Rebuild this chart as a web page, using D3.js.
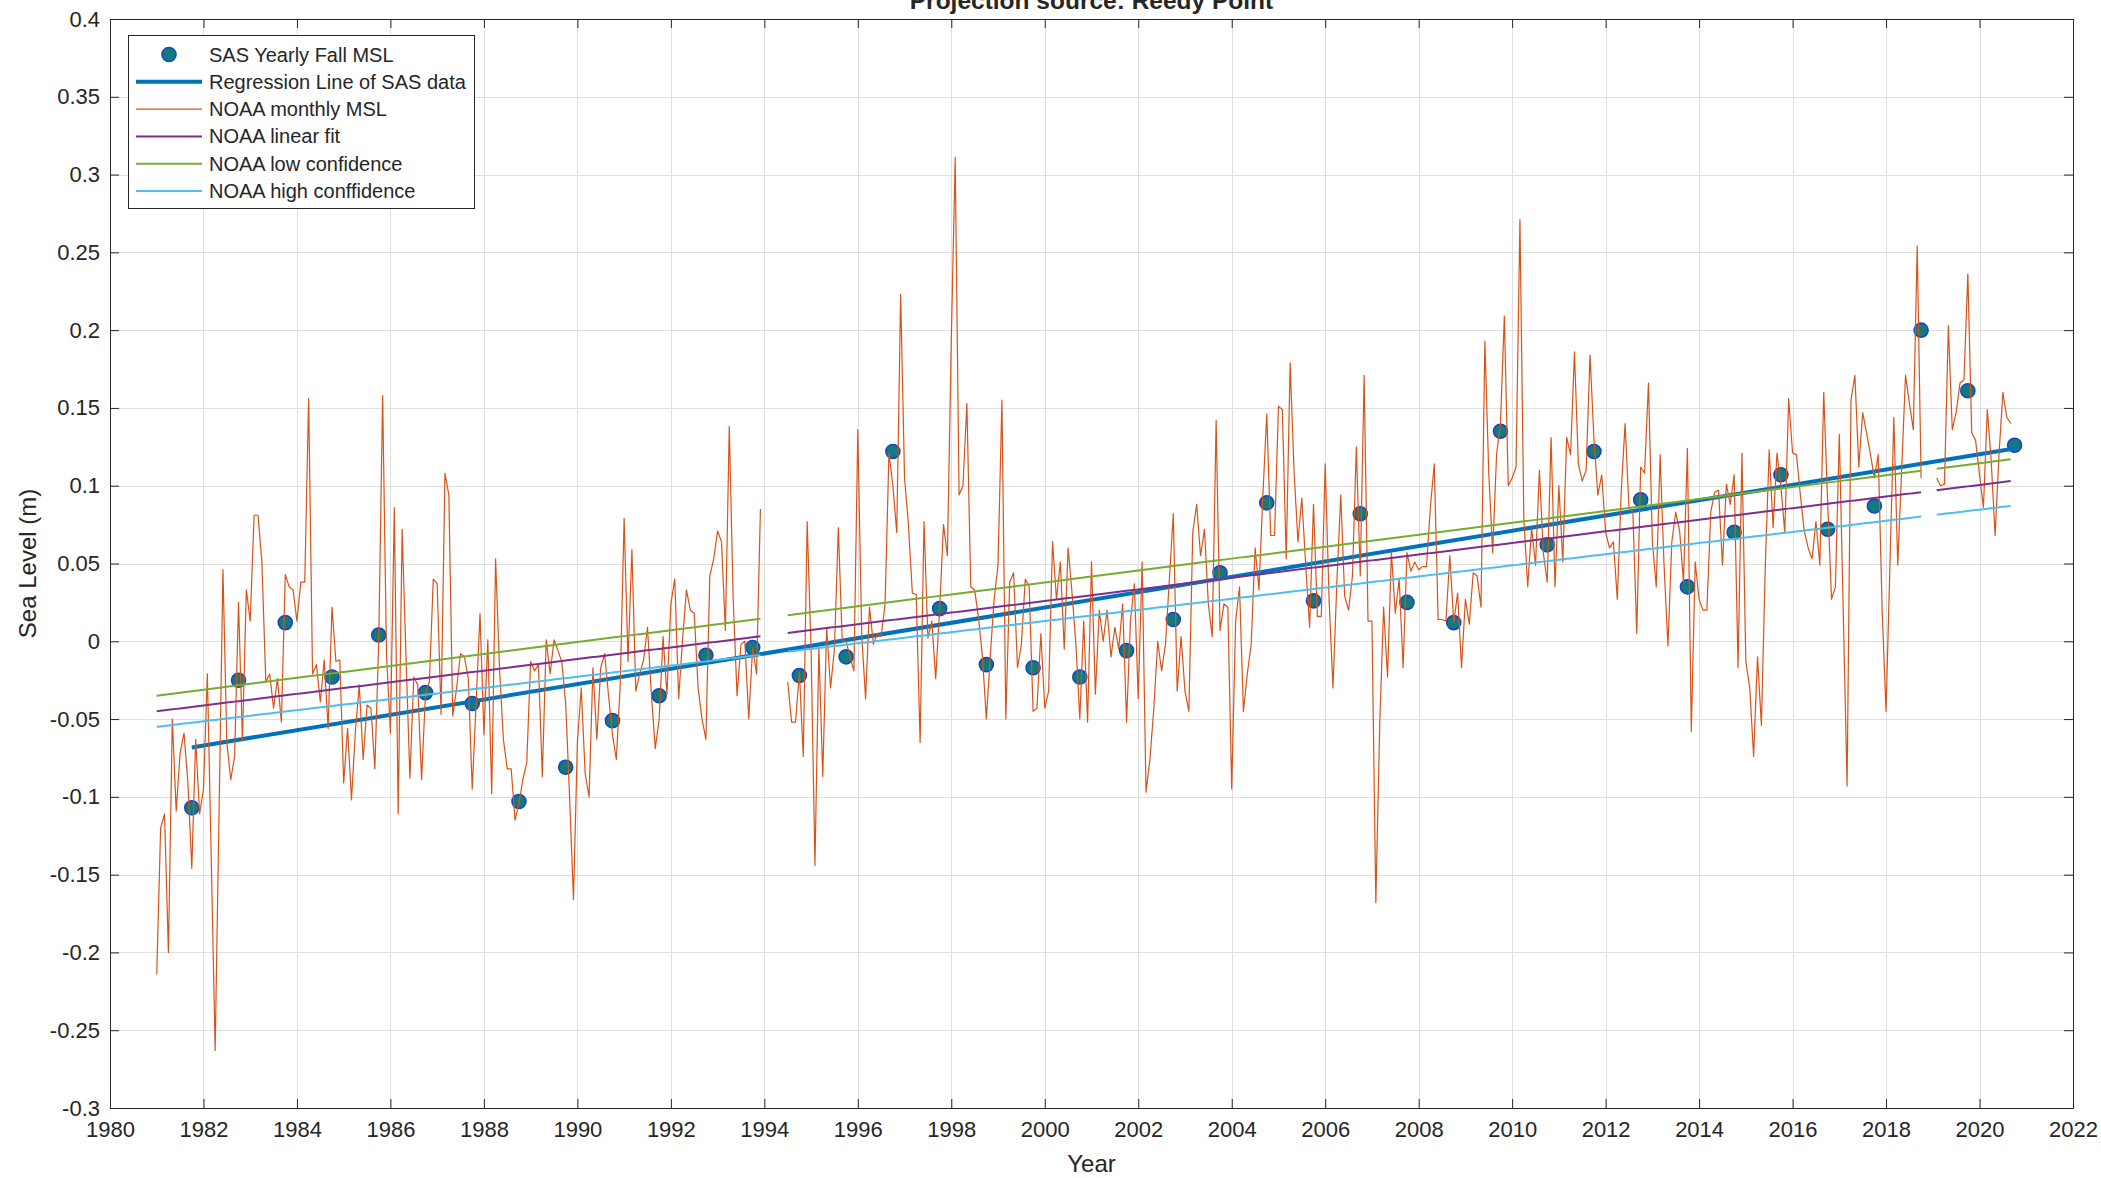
<!DOCTYPE html>
<html>
<head>
<meta charset="utf-8">
<script src="https://cdn.jsdelivr.net/npm/d3@7"></script>
<style>
  body { margin: 0; background: #fff; }
  text { font-family: "Liberation Sans", Arial, sans-serif; fill: #262626; }
</style>
</head>
<body>
<div id="chart-area"></div>
<script>
// Data ---------------------------------------------------
// SAS yearly fall mean sea level (m), one value per year, plotted at year + 0.75
const sasYears = [1981, 1982, 1983, 1984, 1985, 1986, 1987, 1988, 1989, 1990,
  1991, 1992, 1993, 1994, 1995, 1996, 1997, 1998, 1999, 2000,
  2001, 2002, 2003, 2004, 2005, 2006, 2007, 2008, 2009, 2010,
  2011, 2012, 2013, 2014, 2015, 2016, 2017, 2018, 2019, 2020]
const sasMSL = [-0.107, -0.025, 0.012, -0.023, 0.004, -0.033, -0.04, -0.103, -0.081, -0.051,
  -0.035, -0.009, -0.004, -0.022, -0.01, 0.122, 0.021, -0.015, -0.017, -0.023,
  -0.006, 0.014, 0.044, 0.089, 0.026, 0.082, 0.025, 0.012, 0.135, 0.062,
  0.122, 0.091, 0.035, 0.07, 0.107, 0.072, 0.087, 0.2, 0.161, 0.126]
const fallOffset = 0.75

// NOAA monthly MSL (m), Jan 1981 onwards, null = missing month
const monthlyStart = 1981
const noaaMonthly = [
  -0.214, -0.12, -0.111, -0.2, -0.05, -0.109, -0.072, -0.059, -0.091, -0.146, -0.063, -0.111, // 1981
  -0.095, -0.021, -0.14, -0.263, -0.11, 0.046, -0.065, -0.089, -0.074, 0.025, -0.064, 0.033, // 1982
  0.013, 0.081, 0.081, 0.051, -0.026, -0.021, -0.043, -0.024, -0.052, 0.043, 0.035, 0.033,   // 1983
  0.013, 0.038, 0.038, 0.156, -0.021, -0.015, -0.039, -0.012, -0.056, 0.022, -0.013, -0.012, // 1984
  -0.091, -0.056, -0.102, -0.058, -0.028, -0.076, -0.041, -0.043, -0.082, 0.0, 0.158, -0.009, // 1985
  -0.059, 0.086, -0.111, 0.072, -0.01, -0.088, -0.023, -0.028, -0.089, -0.034, -0.026, 0.04, // 1986
  0.037, -0.047, 0.108, 0.094, -0.048, -0.03, -0.008, -0.01, -0.024, -0.095, -0.04, 0.018,  // 1987
  -0.06, 0.001, -0.098, 0.053, -0.017, -0.063, -0.082, -0.082, -0.115, -0.104, -0.089, -0.078, // 1988
  -0.013, -0.019, -0.015, -0.087, 0.001, -0.021, 0.001, -0.006, -0.013, -0.04, -0.1, -0.166, // 1989
  -0.065, -0.03, -0.085, -0.1, -0.017, -0.063, -0.017, -0.008, -0.035, -0.06, -0.076, -0.028, // 1990
  0.079, -0.013, 0.059, -0.032, -0.021, -0.012, 0.009, -0.034, -0.069, -0.05, 0.003, -0.034, // 1991
  0.024, 0.04, -0.037, 0.001, 0.033, 0.02, 0.018, -0.03, -0.05, -0.063, 0.042, 0.053,       // 1992
  0.071, 0.064, 0.007, 0.138, 0.027, -0.035, -0.002, 0.0, -0.05, -0.004, -0.021, 0.085,     // 1993
  null, null, null, null, null, null, -0.026, -0.052, -0.052, -0.02, -0.074, 0.077,         // 1994
  -0.005, -0.144, -0.004, -0.087, 0.009, -0.03, -0.005, 0.073, 0.0, 0.0, -0.01, -0.019,     // 1995
  0.136, 0.004, -0.037, 0.022, -0.002, 0.005, 0.003, 0.024, 0.121, 0.1, 0.07, 0.223,        // 1996
  0.105, 0.075, 0.031, 0.03, -0.065, 0.077, 0.002, 0.013, -0.024, 0.02, 0.075, 0.055,       // 1997
  0.193, 0.311, 0.094, 0.1, 0.153, 0.035, 0.033, 0.015, -0.01, -0.05, -0.01, 0.027,         // 1998
  0.049, 0.155, -0.05, 0.038, 0.044, -0.017, -0.002, 0.04, 0.035, -0.045, -0.043, 0.005,    // 1999
  -0.043, -0.032, 0.064, 0.027, 0.051, -0.005, 0.06, 0.031, -0.002, -0.05, 0.013, -0.052,   // 2000
  0.051, -0.034, 0.02, 0.0, 0.02, -0.01, 0.009, -0.005, 0.024, -0.052, 0.013, 0.037,        // 2001
  -0.037, 0.051, -0.097, -0.076, -0.043, 0.0, -0.019, -0.002, 0.04, 0.082, -0.032, 0.003,   // 2002
  -0.032, -0.045, 0.07, 0.088, 0.055, 0.072, 0.024, 0.003, 0.142, 0.007, 0.024, 0.022,      // 2003
  -0.095, 0.013, 0.035, -0.045, -0.021, -0.002, 0.06, 0.033, 0.094, 0.146, 0.068, 0.068,    // 2004
  0.151, 0.149, 0.053, 0.179, 0.11, 0.064, 0.092, 0.049, 0.009, 0.088, 0.016, 0.016,        // 2005
  0.114, 0.027, -0.03, 0.038, 0.094, 0.029, 0.02, 0.042, 0.125, 0.042, 0.171, 0.013,        // 2006
  0.013, -0.168, -0.054, 0.022, -0.023, 0.057, 0.018, 0.04, -0.017, 0.057, 0.045, 0.051,    // 2007
  0.046, 0.048, 0.048, 0.086, 0.114, 0.014, 0.014, 0.013, 0.055, 0.012, 0.031, -0.017,      // 2008
  0.027, 0.011, 0.044, 0.042, 0.022, 0.193, 0.108, 0.057, 0.12, 0.14, 0.209, 0.1,           // 2009
  0.105, 0.112, 0.271, 0.079, 0.035, 0.073, 0.049, 0.11, 0.057, 0.038, 0.131, 0.035,        // 2010
  0.1, 0.051, 0.131, 0.12, 0.186, 0.114, 0.103, 0.11, 0.184, 0.13, 0.094, 0.107,            // 2011
  0.07, 0.06, 0.064, 0.027, 0.096, 0.14, 0.086, 0.083, 0.005, 0.112, 0.108, 0.166,          // 2012
  0.064, 0.035, 0.12, 0.049, -0.003, 0.064, 0.083, 0.071, 0.038, 0.124, -0.058, 0.051,      // 2013
  0.027, 0.02, 0.02, 0.083, 0.096, 0.097, 0.049, 0.101, 0.088, 0.107, -0.017, 0.121,        // 2014
  -0.013, -0.03, -0.074, -0.01, -0.054, 0.049, 0.123, 0.073, 0.121, 0.1, 0.07, 0.156,       // 2015
  0.121, 0.12, 0.094, 0.071, 0.06, 0.053, 0.077, 0.049, 0.16, 0.09, 0.027, 0.035,           // 2016
  0.133, 0.02, -0.093, 0.155, 0.171, 0.112, 0.147, 0.134, 0.12, 0.105, 0.12, 0.02,          // 2017
  -0.045, 0.049, 0.144, 0.049, 0.11, 0.171, 0.153, 0.136, 0.254, 0.105, null, null,        // 2018
  null, 0.105, 0.1, 0.101, 0.203, 0.136, 0.147, 0.166, 0.168, 0.236, 0.134, 0.129,          // 2019
  0.107, 0.086, 0.149, 0.116, 0.068, 0.12, 0.16, 0.144, 0.14                                // 2020
]

// NOAA trend lines: value (m) at first and last month of the monthly record
const fitNames = ["NOAA linear fit", "NOAA low confidence", "NOAA high conffidence"]
const fitStart = [-0.045, -0.035, -0.055]
const fitEnd = [0.103, 0.117, 0.087]
const fitColors = ["#7E2F8E", "#77AC30", "#4DBEEE"]

// Axis ticks
const xTicks = [1980, 1982, 1984, 1986, 1988, 1990, 1992, 1994, 1996, 1998, 2000,
  2002, 2004, 2006, 2008, 2010, 2012, 2014, 2016, 2018, 2020, 2022]
const yTicks = [-0.3, -0.25, -0.2, -0.15, -0.1, -0.05, 0, 0.05, 0.1, 0.15, 0.2, 0.25, 0.3, 0.35, 0.4]

// Canvas setup -----------------------------------------
const WIDTH = 2101
const HEIGHT = 1178
const MARGIN = {LEFT: 110, RIGHT: 28, TOP: 19, BOTTOM: 70}
const AXIS = "#262626"

const svg = d3.select("#chart-area").append("svg")
  .attr("width", WIDTH)
  .attr("height", HEIGHT)
  .style("display", "block")

svg.append("rect").attr("width", WIDTH).attr("height", HEIGHT).attr("fill", "#fff")

const xScale = d3.scaleLinear().domain([1980, 2022]).range([MARGIN.LEFT, WIDTH - MARGIN.RIGHT])
const yScale = d3.scaleLinear().domain([-0.3, 0.4]).range([HEIGHT - MARGIN.BOTTOM, MARGIN.TOP])

const x0 = xScale.range()[0], x1 = xScale.range()[1]
const y0 = yScale.range()[0], y1 = yScale.range()[1]

// Grid --------------------------------
const grid = svg.append("g").attr("stroke", "#dfdfdf").attr("stroke-width", 1)
grid.selectAll(".gx").data(xTicks).enter().append("line")
  .attr("x1", d => Math.round(xScale(d)) + 0.5).attr("x2", d => Math.round(xScale(d)) + 0.5)
  .attr("y1", y1).attr("y2", y0)
grid.selectAll(".gy").data(yTicks).enter().append("line")
  .attr("y1", d => Math.round(yScale(d)) + 0.5).attr("y2", d => Math.round(yScale(d)) + 0.5)
  .attr("x1", x0).attr("x2", x1)

// Series prep --------------------------------
const monthly = noaaMonthly.map((v, i) => ({t: monthlyStart + i / 12, v: v}))
const tFirst = monthly[0].t
const tLast = monthly[monthly.length - 1].t

const sas = sasYears.map((yr, i) => ({t: yr + fallOffset, v: sasMSL[i]}))
// least squares fit of the SAS points
const mt = d3.mean(sas, d => d.t), mv = d3.mean(sas, d => d.v)
const slope = d3.sum(sas, d => (d.t - mt) * (d.v - mv)) / d3.sum(sas, d => (d.t - mt) ** 2)
const regression = [sas[0], sas[sas.length - 1]].map(d => ({t: d.t, v: mv + slope * (d.t - mt)}))

const line = d3.line()
  .defined(d => d.v !== null)
  .x(d => xScale(d.t))
  .y(d => yScale(d.v))

const plot = svg.append("g")

// SAS yearly points
plot.selectAll("circle.sas").data(sas).enter().append("circle")
  .attr("class", "sas")
  .attr("cx", d => xScale(d.t))
  .attr("cy", d => yScale(d.v))
  .attr("r", 7)
  .attr("fill", "#127a7c")
  .attr("stroke", "#1646c8")
  .attr("stroke-width", 1.6)

// Regression line
plot.append("path").datum(regression)
  .attr("d", line)
  .attr("fill", "none")
  .attr("stroke", "#0072BD")
  .attr("stroke-width", 4)

// NOAA monthly
plot.append("path").datum(monthly)
  .attr("d", line)
  .attr("fill", "none")
  .attr("stroke", "#D95319")
  .attr("stroke-width", 1.2)
  .attr("stroke-linejoin", "round")

// NOAA trend lines, drawn where monthly data exist
fitNames.forEach((name, k) => {
  const pts = monthly.map(d => ({
    t: d.t,
    v: d.v === null ? null : fitStart[k] + (fitEnd[k] - fitStart[k]) * (d.t - tFirst) / (tLast - tFirst)
  }))
  plot.append("path").datum(pts)
    .attr("d", line)
    .attr("fill", "none")
    .attr("stroke", fitColors[k])
    .attr("stroke-width", 2)
})

// Axes --------------------------------
const fmt = d => d === 0 ? "0" : String(+d.toFixed(2))

const xAxis = svg.append("g")
  .attr("transform", `translate(0, ${y0})`)
  .call(d3.axisBottom(xScale).tickValues(xTicks).tickFormat(d3.format("d"))
    .tickSizeInner(-9).tickSizeOuter(0).tickPadding(13))
const yAxis = svg.append("g")
  .attr("transform", `translate(${x0}, 0)`)
  .call(d3.axisLeft(yScale).tickValues(yTicks).tickFormat(fmt)
    .tickSizeInner(-9).tickSizeOuter(0).tickPadding(10))
const xTop = svg.append("g")
  .attr("transform", `translate(0, ${y1})`)
  .call(d3.axisTop(xScale).tickValues(xTicks).tickFormat("").tickSizeInner(-9).tickSizeOuter(0))
const yRight = svg.append("g")
  .attr("transform", `translate(${x1}, 0)`)
  .call(d3.axisRight(yScale).tickValues(yTicks).tickFormat("").tickSizeInner(-9).tickSizeOuter(0))

;[xAxis, yAxis, xTop, yRight].forEach(a => {
  a.select(".domain").attr("stroke", AXIS).attr("stroke-width", 1)
  a.selectAll(".tick line").attr("stroke", AXIS)
  a.selectAll("text").attr("font-size", "22px").attr("fill", AXIS)
    .attr("font-family", "'Liberation Sans', Arial, sans-serif")
})

// Labels
svg.append("text")
  .attr("x", (x0 + x1) / 2).attr("y", 1172)
  .attr("text-anchor", "middle")
  .attr("font-size", "24px")
  .text("Year")

svg.append("text")
  .attr("transform", `translate(36, ${(y0 + y1) / 2}) rotate(-90)`)
  .attr("text-anchor", "middle")
  .attr("font-size", "24px")
  .text("Sea Level (m)")

svg.append("text")
  .attr("x", (x0 + x1) / 2).attr("y", 9)
  .attr("text-anchor", "middle")
  .attr("font-size", "24.5px")
  .attr("font-weight", "bold")
  .attr("fill", "#000")
  .text("Projection source: Reedy Point")

// Legend --------------------------------
const legendLabels = ["SAS Yearly Fall MSL", "Regression Line of SAS data", "NOAA monthly MSL"].concat(fitNames)
const legendKinds = ["dot", "line", "line", "line", "line", "line"]
const legendColors = ["#127a7c", "#0072BD", "#D95319"].concat(fitColors)
const legendWidths = [0, 4, 1.2, 2, 2, 2]

const lg = svg.append("g").attr("transform", "translate(128, 35)")
lg.append("rect")
  .attr("x", 0.5).attr("y", 0.5).attr("width", 346).attr("height", 173)
  .attr("fill", "#fff").attr("stroke", AXIS).attr("stroke-width", 1)

const rows = lg.selectAll("g.row").data(legendLabels).enter().append("g")
  .attr("class", "row")
  .attr("transform", (d, i) => `translate(0, ${19.5 + i * 27.3})`)

rows.each(function(d, i) {
  const r = d3.select(this)
  if (legendKinds[i] === "dot") {
    r.append("circle").attr("cx", 41).attr("cy", 0).attr("r", 7)
      .attr("fill", legendColors[i]).attr("stroke", "#1646c8").attr("stroke-width", 1.6)
  } else {
    r.append("line").attr("x1", 8).attr("x2", 74).attr("y1", 0).attr("y2", 0)
      .attr("stroke", legendColors[i]).attr("stroke-width", legendWidths[i])
  }
  r.append("text").attr("x", 81).attr("y", 7)
    .attr("font-size", "20px").attr("fill", "#000")
    .text(d)
})
</script>
</body>
</html>
